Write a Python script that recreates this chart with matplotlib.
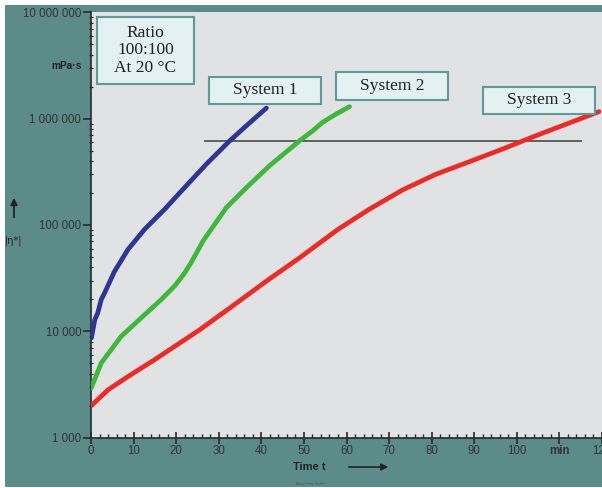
import matplotlib
matplotlib.use("Agg")
import matplotlib.pyplot as plt
from matplotlib.patches import Rectangle, FancyArrowPatch
from matplotlib.ticker import FixedLocator, LogLocator, NullFormatter

# ---- data ----
t_sys1 = [0.1, 0.9, 1.6, 2.4, 3.2, 5.5, 8.7, 12.6, 17.3, 20.9, 27.1, 32.6, 36.5, 41.2]
v_sys1 = [8670, 12900, 14900, 19900, 23000, 36500, 59000, 91200, 140600, 202000,
          374000, 620000, 859000, 1259000]

t_sys2 = [0, 2.4, 7.1, 11.8, 16.5, 19.6, 21.7, 23.5, 26.3, 31.8, 36.5, 41.9, 49.0,
          52.1, 54.4, 57.6, 60.7]
v_sys2 = [2900, 5040, 8980, 13400, 19900, 26600, 34000, 44200, 70600, 146000, 225000,
          360000, 620000, 771000, 925000, 1107000, 1297000]

t_sys3 = [0, 4.0, 8.7, 14.9, 22.7, 25.6, 33.4, 41.2, 49.0, 58.0, 65.4, 73.2, 81.0,
          88.8, 96.6, 104.5, 112.3, 119.3]
v_sys3 = [1990, 2820, 3760, 5400, 8700, 10400, 17500, 29700, 49200, 91000, 141000,
          214000, 300000, 393000, 517000, 692000, 910000, 1164000]

ref_level = 620000
ref_t = [26.8, 115.1]

x_ticks = [0, 10, 20, 30, 40, 50, 60, 70, 80, 90, 100, 110, 120]
x_labels = ["0", "10", "20", "30", "40", "50", "60", "70", "80", "90", "100", "min", "120"]
y_ticks = [1000, 10000, 100000, 1000000, 10000000]
y_labels = ["1 000", "10 000", "100 000", "1 000 000", "10 000 000"]

series_names = ["System 1", "System 2", "System 3"]
info_text = "Ratio\n100:100\nAt 20 °C"

# ---- figure ----
W, H = 602, 488
fig = plt.figure(figsize=(W / 100, H / 100), dpi=100, facecolor="white")
TEAL = "#5b8c8a"

def fx(px):
    return px / W

def fy(py):
    return 1 - py / H

fig.patches.append(Rectangle((fx(5), fy(487)), fx(602) - fx(5), fy(5) - fy(487),
                             transform=fig.transFigure, facecolor=TEAL,
                             edgecolor="none", zorder=-10))

ax = fig.add_axes([fx(91), fy(437.7), fx(602) - fx(91), fy(12.3) - fy(437.7)])
ax.set_facecolor("#e1e2e4")
ax.set_yscale("log")
ax.set_xlim(0, 120)
ax.set_ylim(1000, 10000000)

lw = 3.4
ax.plot(t_sys1, v_sys1, color="#2e3595", lw=lw, solid_capstyle="round",
        solid_joinstyle="round", zorder=3)
ax.plot(t_sys2, v_sys2, color="#3db83a", lw=lw, solid_capstyle="round",
        solid_joinstyle="round", zorder=3)
ax.plot(t_sys3, v_sys3, color="#ee2a26", lw=lw, solid_capstyle="round",
        solid_joinstyle="round", zorder=3)
ax.plot(ref_t, [ref_level, ref_level], color="#555555", lw=1.3, zorder=2)

for s in ["top", "right"]:
    ax.spines[s].set_visible(False)
for s in ["left", "bottom"]:
    ax.spines[s].set_color("#2a2a2a")
    ax.spines[s].set_linewidth(1.2)

ax.xaxis.set_major_locator(FixedLocator(x_ticks))
ax.set_xticklabels(x_labels)
ax.xaxis.set_minor_locator(FixedLocator([v for v in range(0, 121, 2) if v % 10]))
ax.yaxis.set_major_locator(FixedLocator(y_ticks))
ax.set_yticklabels(y_labels)
ax.yaxis.set_minor_locator(LogLocator(base=10, subs=range(2, 10)))
ax.yaxis.set_minor_formatter(NullFormatter())

ax.tick_params(axis="x", which="major", direction="inout", length=8, width=1.2,
               color="#2a2a2a", labelsize=8.3, labelcolor="#333333", pad=1)
ax.tick_params(axis="x", which="minor", direction="in", length=3, width=1,
               color="#2a2a2a")
ax.tick_params(axis="y", which="major", direction="out", length=6, width=1.2,
               color="#2a2a2a", labelsize=8.3, labelcolor="#333333", pad=1)
ax.tick_params(axis="y", which="minor", direction="inout", length=3, width=0.9,
               color="#2a2a2a")
for lab in ax.get_xticklabels():
    lab.set_fontfamily("Liberation Sans")
    if lab.get_text() == "min":
        lab.set_fontweight("bold")
for lab in ax.get_yticklabels():
    lab.set_fontfamily("Liberation Sans")

# ---- text boxes ----
BOX_FC = "#e3f1f2"
BOX_EC = "#5f9a9a"

def box(x0, y0, x1, y1, text, size, ls=1.2):
    fig.patches.append(Rectangle((fx(x0), fy(y1)), fx(x1) - fx(x0), fy(y0) - fy(y1),
                                 transform=fig.transFigure, facecolor=BOX_FC,
                                 edgecolor=BOX_EC, lw=1.5, zorder=5))
    fig.text(fx((x0 + x1) / 2), fy((y0 + y1) / 2), text, ha="center", va="center",
             family="Liberation Serif", fontsize=size, color="#222222",
             linespacing=ls, zorder=6)

box(97, 17, 194, 84, info_text, 12.5, ls=1.1)
box(209, 77, 321, 104, series_names[0], 12.5)
box(336, 72, 448, 100, series_names[1], 12.5)
box(483, 87, 595, 114, series_names[2], 12.5)

# ---- axis labels ----
fig.text(fx(67), fy(66), "mPa·s", ha="center", va="center", fontsize=7.3,
         fontweight="bold", family="Liberation Sans", color="#222222")
fig.text(fx(14), fy(241), "|η*|", ha="center", va="center", fontsize=7,
         family="DejaVu Sans", color="#222222")
fig.patches.append(FancyArrowPatch((fx(14), fy(220)), (fx(14), fy(195)),
                                   transform=fig.transFigure, arrowstyle="-|>",
                                   mutation_scale=10, color="#222222", lw=1.3))
fig.text(fx(309), fy(467), "Time t", ha="center", va="center", fontsize=8,
         fontweight="bold", family="Liberation Sans", color="#222222")
fig.patches.append(FancyArrowPatch((fx(346), fy(467)), (fx(391), fy(467)),
                                   transform=fig.transFigure, arrowstyle="-|>",
                                   mutation_scale=10, color="#222222", lw=1.2))
fig.text(fx(310), fy(484), "Anton Paar GmbH", ha="center", va="center", fontsize=2.5,
         family="Liberation Sans", color="#3a5a58")

fig.savefig("out.png", dpi=100, facecolor="white")
